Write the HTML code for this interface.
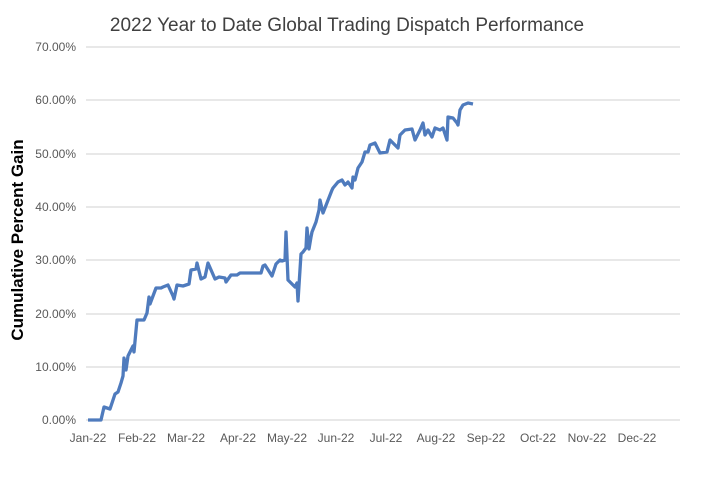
<!DOCTYPE html>
<html><head><meta charset="utf-8"><style>body{margin:0;background:#fff}</style></head><body>
<svg width="705" height="477" xmlns="http://www.w3.org/2000/svg" font-family="Liberation Sans, sans-serif">
<rect width="705" height="477" fill="#fff"/>
<text x="347" y="31" font-size="19" text-anchor="middle" fill="#404040">2022 Year to Date Global Trading Dispatch Performance</text>
<g stroke="#d9d9d9" stroke-width="1.3">
<line x1="86" x2="680" y1="47" y2="47"/><line x1="86" x2="680" y1="100" y2="100"/><line x1="86" x2="680" y1="154" y2="154"/><line x1="86" x2="680" y1="207" y2="207"/><line x1="86" x2="680" y1="260" y2="260"/><line x1="86" x2="680" y1="314" y2="314"/><line x1="86" x2="680" y1="367" y2="367"/><line x1="86" x2="680" y1="420" y2="420"/>
</g>
<g font-size="12" fill="#595959" text-anchor="end">
<text x="76" y="51">70.00%</text><text x="76" y="104">60.00%</text><text x="76" y="158">50.00%</text><text x="76" y="211">40.00%</text><text x="76" y="264">30.00%</text><text x="76" y="318">20.00%</text><text x="76" y="371">10.00%</text><text x="76" y="424">0.00%</text>
</g>
<g font-size="12" fill="#595959" text-anchor="middle">
<text x="88" y="442">Jan-22</text><text x="137" y="442">Feb-22</text><text x="186" y="442">Mar-22</text><text x="238" y="442">Apr-22</text><text x="287" y="442">May-22</text><text x="336" y="442">Jun-22</text><text x="386" y="442">Jul-22</text><text x="436" y="442">Aug-22</text><text x="486" y="442">Sep-22</text><text x="538" y="442">Oct-22</text><text x="587" y="442">Nov-22</text><text x="637" y="442">Dec-22</text>
</g>
<text transform="translate(23,240) rotate(-90)" font-size="17" font-weight="bold" text-anchor="middle" fill="#000">Cumulative Percent Gain</text>
<polyline fill="none" stroke="#4f7bbd" stroke-width="3.3" stroke-linejoin="round" points="88,420 101,420 104,407 110,409 115,394 118,392 121,383 123,376 124,358 126,370 128,356 133,346 134,352 137,320 140,320 144,320 147,313 149,297 150,304 156,288 161,288 163,287 168,285 173,296 174,299 177,285 183,286 189,284 191,270 196,269 197,263 201,279 205,277 208,263 215,279 219,277 225,278 226,282 231,275 237,275 240,273 261,273 263,266 265,265 272,276 276,264 280,260 282,261 285,260 286,232 288,280 293,285 295,287 297,283 298,301 301,254 303,252 306,248 307,228 309,249 311,237 312,232 316,222 319,210 320,200 323,213 332,190 333,188 338,182 342,180 345,185 348,182 352,188 353,177 355,180 358,168 362,162 365,152 368,152 370,145 375,143 380,153 387,152 390,140 398,148 400,135 405,130 412,129 415,140 420,130 423,123 425,135 428,130 432,137 435,128 440,130 443,128 447,140 448,117 453,118 457,123 458,125 460,110 463,105 468,103 473,104"/>
</svg>
</body></html>
